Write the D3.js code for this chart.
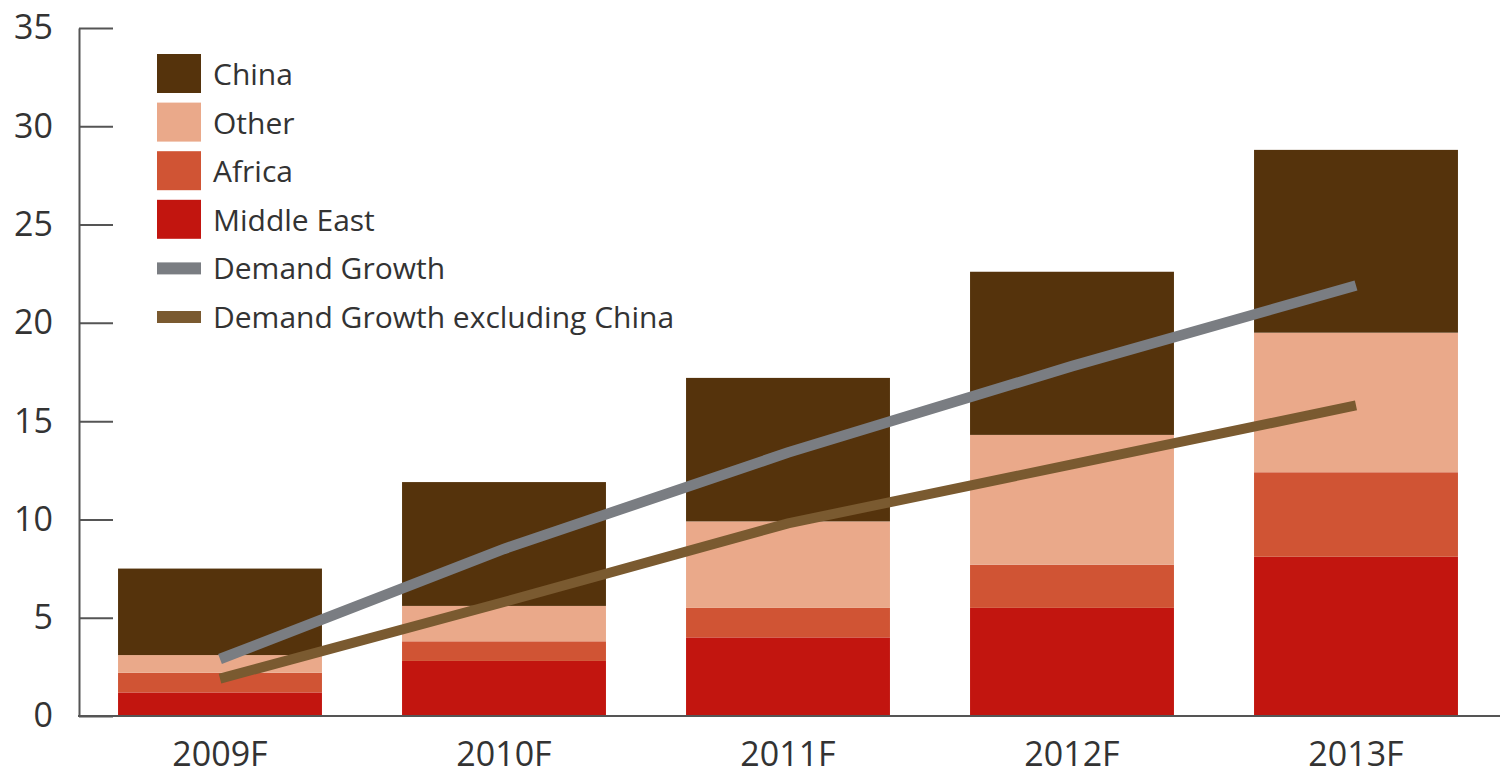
<!DOCTYPE html>
<html>
<head>
<meta charset="utf-8">
<script src="https://cdn.jsdelivr.net/npm/d3@7"></script>
<style>
  body { margin: 0; background: #fff; }
  text { font-family: "Open Sans", "Noto Sans", sans-serif; fill: #333; }
</style>
</head>
<body>
<div id="chart"></div>
<script>
// Data
var years = ["2009F", "2010F", "2011F", "2012F", "2013F"];
var middleEast = [1.2, 2.8, 4.0, 5.5, 8.1];
var africa = [1.0, 1.0, 1.5, 2.2, 4.3];
var other = [0.9, 1.8, 4.4, 6.6, 7.1];
var china = [4.4, 6.3, 7.3, 8.3, 9.3];
var demandGrowth = [2.9, 8.5, 13.4, 17.8, 21.9];
var demandExChina = [1.9, 5.8, 9.8, 12.8, 15.8];
var yTicks = [0, 5, 10, 15, 20, 25, 30, 35];

var seriesNames = ["Middle East", "Africa", "Other", "China"];
var colors = {
    "Middle East": "#c2150f",
    "Africa": "#d05434",
    "Other": "#eaa98a",
    "China": "#55330c"
};
var lineColors = { grey: "#7a7d82", brown: "#7a5a30" };

var svgWidth = 1503;
var svgHeight = 779;

var svg = d3.select("#chart")
    .append("svg")
    .attr("width", svgWidth)
    .attr("height", svgHeight);

// build table rows for stack
var rows = years.map(function (y, i) {
    return {
        year: y,
        "Middle East": middleEast[i],
        "Africa": africa[i],
        "Other": other[i],
        "China": china[i]
    };
});

var xScale = d3.scaleBand()
    .domain(years)
    .range([78, 1498])
    .paddingInner(0.282)
    .paddingOuter(0.141);

var yScale = d3.scaleLinear()
    .domain([0, 35])
    .range([716, 28]);

var stacked = d3.stack().keys(seriesNames)(rows);

// bars
svg.append("g")
    .selectAll("g")
    .data(stacked)
    .enter()
    .append("g")
    .attr("fill", d => colors[d.key])
    .selectAll("rect")
    .data(d => d)
    .enter()
    .append("rect")
    .attr("x", d => xScale(d.data.year))
    .attr("y", d => yScale(d[1]))
    .attr("width", xScale.bandwidth())
    .attr("height", d => yScale(d[0]) - yScale(d[1]));

// lines
var line = d3.line()
    .x((d, i) => xScale(years[i]) + xScale.bandwidth() / 2)
    .y(d => yScale(d));

svg.append("path")
    .datum(demandExChina)
    .attr("d", line)
    .attr("fill", "none")
    .attr("stroke", lineColors.brown)
    .attr("stroke-width", 10);

svg.append("path")
    .datum(demandGrowth)
    .attr("d", line)
    .attr("fill", "none")
    .attr("stroke", lineColors.grey)
    .attr("stroke-width", 10.5);

// y axis
var leftAxis = d3.axisLeft(yScale)
    .tickValues(yTicks)
    .tickSizeInner(-34)
    .tickSizeOuter(0)
    .tickPadding(26);

var yAxisG = svg.append("g")
    .attr("transform", "translate(79,0)")
    .call(leftAxis);
yAxisG.select(".domain").attr("stroke", "#555").attr("stroke-width", 2);
yAxisG.selectAll(".tick line").attr("stroke", "#555").attr("stroke-width", 2);
yAxisG.selectAll(".tick text")
    .attr("font-size", 34)
    .attr("fill", "#333")
    .style("font-family", "'Open Sans', 'Noto Sans', sans-serif");

// x axis line
svg.append("line")
    .attr("x1", 78).attr("x2", 1500)
    .attr("y1", yScale(0)).attr("y2", yScale(0))
    .attr("stroke", "#555")
    .attr("stroke-width", 2);

svg.append("g")
    .selectAll("text")
    .data(years)
    .enter()
    .append("text")
    .attr("x", d => xScale(d) + xScale.bandwidth() / 2)
    .attr("y", 766)
    .attr("text-anchor", "middle")
    .attr("font-size", 34)
    .text(d => d);

// legend
var legendItems = [
    { name: "China", color: colors["China"], type: "box" },
    { name: "Other", color: colors["Other"], type: "box" },
    { name: "Africa", color: colors["Africa"], type: "box" },
    { name: "Middle East", color: colors["Middle East"], type: "box" },
    { name: "Demand Growth", color: lineColors.grey, type: "line" },
    { name: "Demand Growth excluding China", color: lineColors.brown, type: "line" }
];

var legend = svg.append("g")
    .attr("transform", "translate(157,54)");

var item = legend.selectAll("g")
    .data(legendItems)
    .enter()
    .append("g")
    .attr("transform", (d, i) => `translate(0, ${i * 48.6})`);

item.append("rect")
    .attr("x", 0)
    .attr("y", d => d.type == "box" ? 0 : 14)
    .attr("width", 44)
    .attr("height", d => d.type == "box" ? 39 : 12)
    .attr("fill", d => d.color);

item.append("text")
    .attr("x", 56)
    .attr("y", 31)
    .attr("font-size", 30)
    .attr("fill", "#333")
    .text(d => d.name);
</script>
</body>
</html>
